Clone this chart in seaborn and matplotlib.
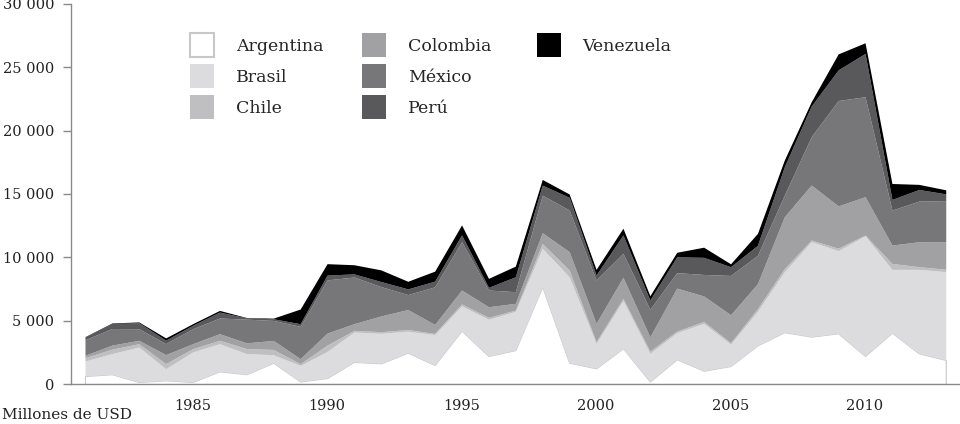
import pandas as pd
import matplotlib
matplotlib.use("Agg")
import matplotlib.pyplot as plt
from matplotlib.ticker import FuncFormatter, MultipleLocator
import seaborn as sns

# Inversión (millones de USD) por país, 1981-2013
years = list(range(1981, 2014))
argentina = [630, 770, 160, 290, 160, 1000, 770, 1680, 200, 470, 1750, 1630, 2470, 1500, 4210, 2210, 2680,
             7680, 1680, 1240, 2820, 200, 1950, 1050, 1420, 3050, 4090, 3740, 4000, 2210, 4050, 2420, 1900]
brasil = [1190, 1630, 2760, 920, 2370, 2180, 1630, 630, 1270, 2100, 2355, 2370, 1700, 2400, 1950, 2900, 3060,
          3030, 6790, 1970, 3760, 2220, 2100, 3740, 1730, 2690, 4780, 7500, 6530, 9490, 5000, 6630, 6970]
chile = [260, 350, 260, 400, 260, 270, 400, 420, 130, 500, 130, 130, 130, 100, 160, 150, 100,
         390, 530, 130, 180, 180, 130, 150, 110, 210, 250, 130, 190, 60, 470, 210, 190]
colombia = [190, 320, 270, 710, 390, 520, 450, 710, 400, 950, 530, 1240, 1580, 700, 1100, 840, 530,
            840, 1450, 1450, 1660, 1120, 3390, 2010, 2210, 1970, 4090, 4340, 3340, 3030, 1450, 1970, 2180]
mexico = [1230, 1310, 920, 870, 1180, 1240, 1870, 1580, 2550, 4200, 3680, 2320, 1180, 2970, 3820, 1320, 920,
          2970, 3290, 3420, 1900, 2180, 1220, 1700, 3100, 2240, 1710, 3820, 8320, 7890, 2760, 3210, 3240]
peru = [210, 400, 470, 270, 270, 470, 100, 130, 210, 380, 250, 400, 450, 450, 530, 210, 1180,
        790, 1000, 390, 1450, 730, 1250, 1350, 690, 790, 2240, 2420, 2420, 3420, 840, 920, 530]
venezuela = [30, 40, 60, 180, 130, 130, 30, 50, 1160, 900, 720, 920, 600, 790, 790, 710, 840,
             450, 260, 450, 530, 340, 360, 800, 230, 940, 530, 340, 1260, 840, 1260, 400, 320]

countries = ["Argentina", "Brasil", "Chile", "Colombia", "México", "Perú", "Venezuela"]
colors = ["#ffffff", "#dcdcde", "#bfbfc1", "#a1a1a4", "#77777a", "#59595b", "#000000"]

df = pd.DataFrame({
    "Argentina": argentina, "Brasil": brasil, "Chile": chile, "Colombia": colombia,
    "México": mexico, "Perú": peru, "Venezuela": venezuela,
}, index=years)

sns.set_theme(style="white")
plt.rcParams['font.family'] = ['DejaVu Serif']

fig = plt.figure(figsize=(9.6, 4.24), dpi=100)
ax = fig.add_axes([71 / 960, 1 - 384 / 424, 1 - 71 / 960, 380 / 424])

polys = ax.stackplot(df.index, df[countries].T.values, colors=colors, labels=countries, linewidth=0)
polys[0].set_edgecolor("#c8c8c8")
polys[0].set_linewidth(0.8)

ax.set_xlim(1980.48, 2013.53)
ax.set_ylim(0, 30000)
ax.yaxis.set_major_locator(MultipleLocator(5000))
ax.yaxis.set_major_formatter(FuncFormatter(lambda v, p: f"{int(v):,}".replace(",", " ")))
ax.set_xticks([1985, 1990, 1995, 2000, 2005, 2010])

sns.despine(ax=ax)
for side in ["left", "bottom"]:
    ax.spines[side].set_color("#8a8a8a")
    ax.spines[side].set_linewidth(1.0)
ax.tick_params(axis="y", length=6, width=1, color="#8a8a8a", pad=6, labelsize=10.5, labelcolor="#222222", left=True)
ax.tick_params(axis="x", length=0, pad=11, labelsize=10.5, labelcolor="#222222")
ax.set_facecolor("white")

fig.text(2 / 960, 1 - 419 / 424, "Millones de USD", fontsize=11, color="#222222", va="baseline", ha="left")

# legend in three columns
groups = [[0, 1, 2], [3, 4, 5], [6]]
anchors = [190, 362, 537]
legends = []
for idx, x0 in zip(groups, anchors):
    leg = ax.legend([polys[i] for i in idx], [countries[i] for i in idx],
                    loc="upper left", bbox_to_anchor=(x0 / 960, 1 - 33 / 424),
                    bbox_transform=fig.transFigure, frameon=False, fontsize=12.5,
                    handlelength=1.38, handleheight=1.75, handletextpad=1.25,
                    labelspacing=0.4, borderpad=0, borderaxespad=0)
    for h in leg.legend_handles:
        if h.get_facecolor()[0] > 0.99 and h.get_facecolor()[1] > 0.99:
            h.set_edgecolor("#c8c8c8")
            h.set_linewidth(1.5)
    legends.append(leg)
for leg in legends[:-1]:
    ax.add_artist(leg)

fig.savefig("out.png", dpi=100, facecolor="white")
